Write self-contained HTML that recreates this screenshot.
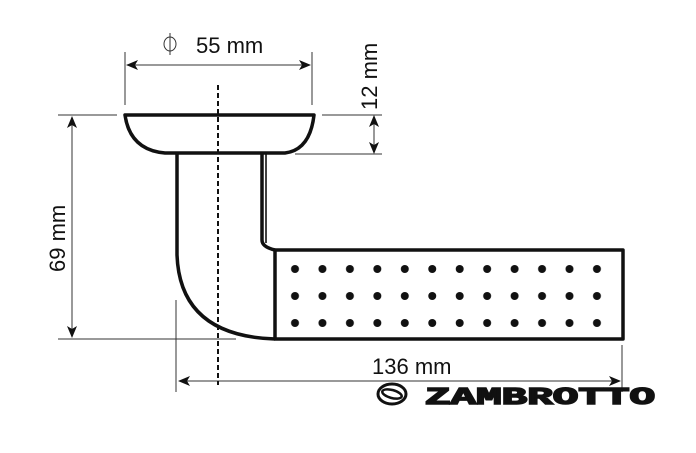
<!DOCTYPE html>
<html><head><style>
html,body{margin:0;padding:0;background:#fff;width:696px;height:453px;overflow:hidden}
svg{display:block}
text{font-family:"Liberation Sans",sans-serif;fill:#111}
</style></head><body>
<svg width="696" height="453" viewBox="0 0 696 453" xmlns="http://www.w3.org/2000/svg">
<defs>
<marker id="a" markerWidth="12" markerHeight="10" refX="11" refY="5" orient="auto-start-reverse" markerUnits="userSpaceOnUse">
<path d="M0,0 L12,5 L0,10 L3,5 Z" fill="#111"/></marker>
<pattern id="p" patternUnits="userSpaceOnUse" x="281.275" y="255.5" width="27.45" height="27">
<circle cx="13.725" cy="13.5" r="4" fill="#111"/></pattern>
</defs>
<g stroke="#333" stroke-width="1" fill="none">
<line x1="125" y1="52" x2="125" y2="105"/>
<line x1="312" y1="52" x2="312" y2="105"/>
<line x1="127" y1="65" x2="310" y2="65" marker-start="url(#a)" marker-end="url(#a)"/>
<line x1="322" y1="115" x2="382" y2="115"/>
<line x1="295" y1="154" x2="382" y2="154"/>
<line x1="374" y1="116" x2="374" y2="153" marker-start="url(#a)" marker-end="url(#a)"/>
<line x1="58" y1="115" x2="117" y2="115"/>
<line x1="58" y1="339" x2="236" y2="339"/>
<line x1="72" y1="117" x2="72" y2="337" marker-start="url(#a)" marker-end="url(#a)"/>
<line x1="176" y1="300" x2="176" y2="392"/>
<line x1="622" y1="345" x2="622" y2="392"/>
<line x1="179" y1="381" x2="620" y2="381" marker-start="url(#a)" marker-end="url(#a)"/>
<ellipse cx="170" cy="44" rx="6" ry="7"/>
<line x1="170" y1="33" x2="170" y2="55"/>
</g>
<line x1="218" y1="85" x2="218" y2="385" stroke="#111" stroke-width="2" stroke-dasharray="5,3"/>
<g stroke="#111" stroke-width="3.5" fill="none" stroke-linejoin="round">
<path d="M125,115 L314,115 Q310,150 285,153 L165,153 Q130,150 125,115 Z"/>
<path d="M177,153 L177,255 Q180,336 275,339"/>
<path d="M262,153 L262,240 Q262,247 275,250"/>
<line x1="266" y1="153" x2="266" y2="243" stroke-width="1.6"/>
<rect x="275" y="250" width="348" height="89"/>
</g>
<rect x="281.275" y="255.5" width="329.4" height="81" fill="url(#p)"/>
<text x="196" y="53" font-size="22">55 mm</text>
<text transform="translate(377,110) rotate(-90)" font-size="22">12 mm</text>
<text transform="translate(65,272) rotate(-90)" font-size="22">69 mm</text>
<text x="372" y="374" font-size="22">136 mm</text>
<g stroke="#111" fill="none">
<ellipse cx="392" cy="394" rx="14" ry="10" stroke-width="3"/>
<ellipse cx="392" cy="394" rx="10" ry="4" stroke-width="2.5" transform="rotate(15 392 394)"/>
</g>
<text x="425" y="404" font-size="24" font-weight="bold" style="font-family:'Liberation Mono',monospace" textLength="230" lengthAdjust="spacingAndGlyphs" stroke="#111" stroke-width="1.5">ZAMBROTTO</text>
</svg>
</body></html>
